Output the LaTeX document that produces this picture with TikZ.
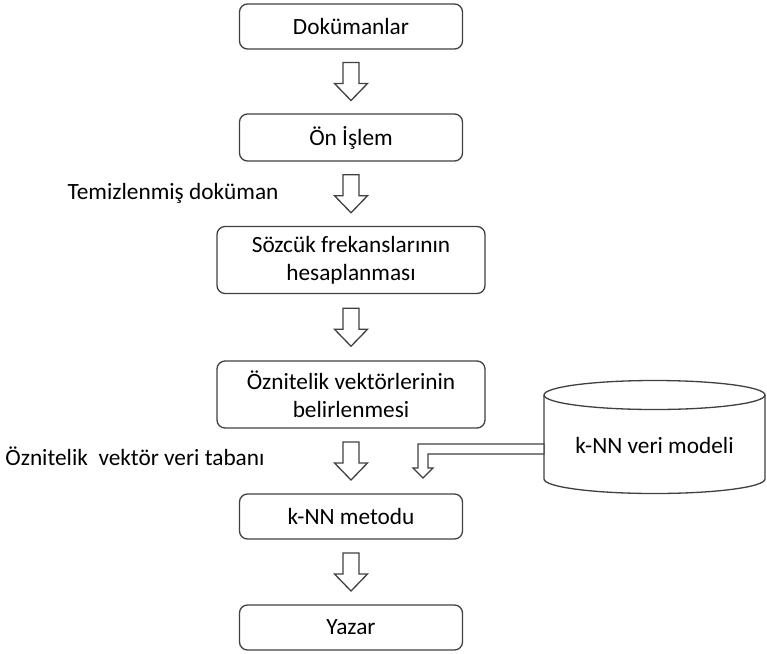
\documentclass[tikz,border=0pt]{standalone}
\usepackage{fontspec}
\setmainfont{Carlito}
\usetikzlibrary{calc}
\begin{document}
\begin{tikzpicture}[x=1pt,y=-1pt,
  every node/.style={font=\fontsize{23.3}{28.4}\selectfont},
  stepbox/.style={draw=black!75, line width=1.3pt, rounded corners=8pt, align=center, inner sep=0pt, minimum height=45pt, minimum width=223pt},
  widebox/.style={stepbox, minimum height=67pt, minimum width=268pt},
  hollow/.style={draw=black!75, line width=1.3pt, fill=white},
  blockarrow/.pic={\draw[hollow] (-8,-19) -- (8,-19) -- (8,2) -- (16.5,2) -- (0,19)
    -- (-16.5,2) -- (-8,2) -- cycle;}]
\useasboundingbox (0,0) rectangle (767,653);

\node[stepbox] (D1) at (351,26.5)  {Dokümanlar};
\node[stepbox, minimum height=47pt] (D2) at (351,137.5) {Ön İşlem};
\node[widebox] (D3) at (351,260)   {Sözcük frekanslarının\\hesaplanması};
\node[widebox] (D4) at (351,394.5) {Öznitelik vektörlerinin\\belirlenmesi};
\node[stepbox] (D5) at (351,516.5) {k-NN metodu};
\node[stepbox] (D6) at (351,627.5) {Yazar};

% data model drum
\draw[hollow] (544,395) -- (544,479) arc[start angle=180, end angle=0, x radius=110.5, y radius=14.5]
  -- (765,395);
\draw[hollow] (654.5,395) ellipse [x radius=110.5, y radius=14.5];
\node (M) at (654.5,445) {k-NN veri modeli};

% block arrows between the steps
\pic at ($(D1.south)!0.5!(D2.north)$) {blockarrow};
\pic at ($(D2.south)!0.5!(D3.north)$) {blockarrow};
\pic at ($(D3.south)!0.5!(D4.north)$) {blockarrow};
\pic at ($(D4.south)!0.5!(D5.north)$) {blockarrow};
\pic at ($(D5.south)!0.5!(D6.north)$) {blockarrow};

\node[anchor=east] (L1) at (282,193) {Temizlenmiş doküman};
\node[anchor=east] (L2) at (268,456) {Öznitelik\ \ vektör veri tabanı};

% model feeds into k-NN
\coordinate (W) at (544,449);
\coordinate (T) at (423,478);
\draw[hollow] (W) ++(0,-5) -- (418,444) -- (418,468) -- (413,468) -- (T)
  -- (433,468) -- (428,468) -- (428,454) -- ($(W)+(0,5)$) -- cycle;
\end{tikzpicture}
\end{document}
